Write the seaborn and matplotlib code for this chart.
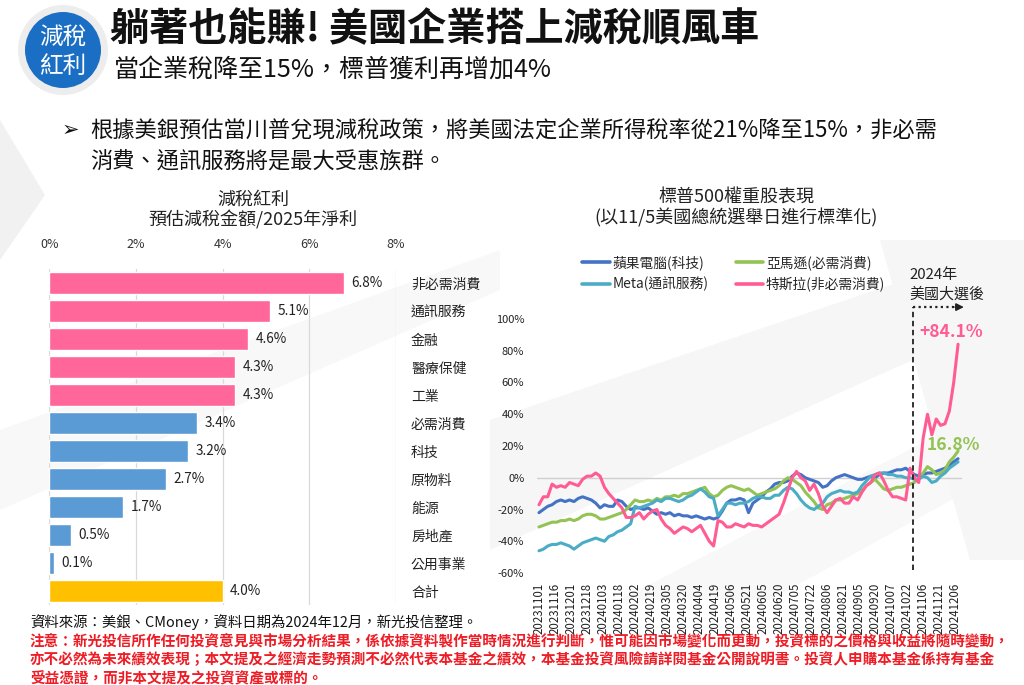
import matplotlib
matplotlib.use("Agg")
import numpy as np
import pandas as pd
import matplotlib.pyplot as plt
from matplotlib.patches import Circle, Polygon
from matplotlib.lines import Line2D
import seaborn as sns

W, H = 1024, 685

# 左圖：減稅紅利（預估減稅金額 / 2025年淨利）
sectors = ["非必需消費", "通訊服務", "金融", "醫療保健", "工業", "必需消費",
           "科技", "原物料", "能源", "房地產", "公用事業", "合計"]
tax_benefit = [6.8, 5.1, 4.6, 4.3, 4.3, 3.4, 3.2, 2.7, 1.7, 0.5, 0.1, 4.0]
sector_colors = ["#ff6699"] * 5 + ["#5b9bd5"] * 6 + ["#ffc000"]
bar_ticks = [0, 2, 4, 6, 8]

# 右圖：標普500權重股表現（%），每3個交易日取一點
date_labels = ["20231101", "20231116", "20231201", "20231218", "20240103", "20240118",
               "20240202", "20240219", "20240305", "20240320", "20240404", "20240419",
               "20240506", "20240521", "20240605", "20240620", "20240705", "20240722",
               "20240806", "20240821", "20240905", "20240920", "20241007", "20241022",
               "20241106", "20241121", "20241206"]
label_step = 11
sample_step = 3

apple = [-22, -20, -18, -17, -15, -14, -15, -14, -15, -13,
         -12, -13, -14, -16, -19, -17, -18, -18, -14, -15,
         -18, -20, -19, -19, -20, -19, -21, -23, -22, -23,
         -22, -24, -23, -24, -24, -25, -24, -25, -26, -25,
         -26, -25, -21, -16, -14, -14, -13, -14, -22, -16,
         -14, -12, -9, -7, -4, -3, -3, -2, 1, 3,
         2, 0, -1, -2, -3, -6, -5, -2, 0, 1,
         2, 1, 0, -1, -1, 0, 1, 0, 2, 3,
         3, 4, 5, 5, 6, 4, 2, 1, 2, 3,
         3, 4, 5, 6, 8, 10, 12]
amazon = [-31, -30, -29, -28, -28, -27, -27, -26, -27, -26,
          -24, -23, -23, -24, -26, -26, -25, -24, -23, -22,
          -20, -17, -14, -15, -15, -14, -15, -13, -14, -12,
          -12, -11, -12, -10, -10, -9, -8, -7, -6, -10,
          -12, -11, -8, -6, -5, -6, -7, -8, -7, -9,
          -11, -10, -9, -8, -7, -5, -2, 0, -1, -3,
          -5, -9, -12, -15, -19, -20, -17, -16, -14, -14,
          -13, -12, -11, -10, -8, -5, -3, -1, -4, -7,
          -8, -7, -6, -6, -5, -4, -3, 0, 3, 7,
          5, 2, 3, 5, 10, 13, 16.8]
meta = [-46, -45, -43, -42, -42, -41, -42, -43, -45, -43,
        -41, -40, -39, -38, -39, -40, -37, -36, -34, -33,
        -31, -29, -18, -19, -18, -17, -16, -14, -15, -13,
        -13, -14, -15, -14, -12, -11, -9, -7, -9, -12,
        -13, -24, -20, -16, -16, -17, -16, -16, -15, -13,
        -12, -12, -13, -13, -11, -11, -8, -6, -7, -10,
        -14, -17, -19, -20, -18, -16, -12, -10, -9, -8,
        -9, -9, -10, -9, -5, -2, 1, 2, 3, 3,
        2, 2, 1, 1, 0, 0, -1, -1, 1, 0,
        -3, -2, 1, 3, 6, 8, 10]
tesla = [-17, -12, -12, -4, -6, -5, -6, -3, -4, -5,
         -1, 1, 1, 3, 1, -6, -10, -13, -16, -19,
         -25, -25, -24, -22, -26, -23, -21, -20, -26, -30,
         -32, -35, -33, -31, -32, -34, -32, -30, -35, -40,
         -43, -27, -28, -31, -31, -29, -30, -31, -29, -30,
         -30, -31, -29, -27, -25, -23, -16, -8, 0, 4,
         0, -2, -8, -4, -10, -18, -22, -18, -14, -13,
         -16, -16, -12, -14, -9, -5, -3, 2, 3, -2,
         -8, -12, -12, -13, -14, 6, 0, -3, 25, 40,
         27, 37, 33, 34, 42, 60, 84.1]

series_names = ["蘋果電腦(科技)", "亞馬遜(必需消費)", "Meta(通訊服務)", "特斯拉(非必需消費)"]
series_colors = ["#4472c4", "#92c353", "#4bacc6", "#ff5c93"]
election_mark = 257  # 大選後虛線位置（交易日序號）

sns.set_theme(style="white")
plt.rcParams["font.family"] = ["Noto Sans CJK TC", "DejaVu Sans"]

fig = plt.figure(figsize=(W / 100, H / 100), dpi=100)
fig.patch.set_facecolor("white")


def box(x0, y0, x1, y1):
    # 像素座標 -> figure 比例
    return [x0 / W, 1 - y1 / H, (x1 - x0) / W, (y1 - y0) / H]


# 背景與標題（像素座標）
bg = fig.add_axes([0, 0, 1, 1], zorder=0)
bg.set_xlim(0, W)
bg.set_ylim(H, 0)
bg.axis("off")
for pts, col in [
    ([(0, 120), (0, 260), (45, 195)], "#f1f1f1"),
    ([(0, 430), (500, 250), (500, 290), (0, 510)], "#f8f8f8"),
    ([(490, 420), (1024, 240), (1024, 310), (490, 550)], "#f6f6f6"),
    ([(620, 600), (1024, 390), (1024, 460), (770, 600)], "#f8f8f8"),
    ([(880, 240), (1024, 240), (1024, 560), (970, 560)], "#f6f6f6"),
]:
    bg.add_patch(Polygon(pts, closed=True, fc=col, ec="none"))

bg.add_patch(Circle((63, 50), 45, fc="#ededed", ec="none"))
bg.add_patch(Circle((63, 50), 38, fc="#1a6fc4", ec="none"))
bg.text(63, 37, "減稅", color="white", fontsize=17, ha="center", va="center")
bg.text(63, 66, "紅利", color="white", fontsize=17, ha="center", va="center")
bg.text(110, 30, "躺著也能賺! 美國企業搭上減稅順風車", fontsize=28.2, fontweight="bold",
        color="#111111", ha="left", va="center")
bg.text(114, 71, "當企業稅降至15%，標普獲利再增加4%", fontsize=18, color="#111111",
        ha="left", va="center")
bg.text(62, 130, "➢", fontsize=15, family="DejaVu Sans", color="#111111", ha="left", va="center")
bg.text(90, 130, "根據美銀預估當川普兌現減稅政策，將美國法定企業所得稅率從21%降至15%，非必需",
        fontsize=16, color="#111111", ha="left", va="center")
bg.text(90, 161, "消費、通訊服務將是最大受惠族群。", fontsize=16, color="#111111",
        ha="left", va="center")

bg.text(253, 200, "減稅紅利", fontsize=13, color="#222222", ha="center", va="center")
bg.text(253, 220, "預估減稅金額/2025年淨利", fontsize=13, color="#222222", ha="center", va="center")
bg.text(736, 198, "標普500權重股表現", fontsize=13, color="#222222", ha="center", va="center")
bg.text(736, 218, "(以11/5美國總統選舉日進行標準化)", fontsize=13, color="#222222",
        ha="center", va="center")

bg.text(30, 622, "資料來源：美銀、CMoney，資料日期為2024年12月，新光投信整理。", fontsize=10.4,
        color="#111111", ha="left", va="center")
notes = ["注意：新光投信所作任何投資意見與市場分析結果，係依據資料製作當時情況進行判斷，惟可能因市場變化而更動，投資標的之價格與收益將隨時變動，",
         "亦不必然為未來績效表現；本文提及之經濟走勢預測不必然代表本基金之績效，本基金投資風險請詳閱基金公開說明書。投資人申購本基金係持有基金",
         "受益憑證，而非本文提及之投資資產或標的。"]
for i, line in enumerate(notes):
    bg.text(30, 641 + 18.5 * i, line, fontsize=10.5, fontweight="bold", color="#ee1c25",
            ha="left", va="center")

# 左圖：橫條圖
axb = fig.add_axes(box(49.3, 269, 395.7, 605), zorder=2)
axb.patch.set_alpha(0)
df_bar = pd.DataFrame({"sector": sectors, "value": tax_benefit})
sns.barplot(data=df_bar, x="value", y="sector", hue="sector", palette=sector_colors,
            legend=False, width=0.775, orient="h", saturation=1, ax=axb)
axb.set_xlim(0, 8)
axb.set_ylim(len(sectors) - 0.5, -0.5)
axb.xaxis.tick_top()
axb.set_xticks(bar_ticks)
axb.set_xticklabels([f"{t}%" for t in bar_ticks])
axb.yaxis.tick_right()
axb.tick_params(axis="x", length=0, pad=13, labelsize=9, labelcolor="#333333")
axb.tick_params(axis="y", length=0, pad=11, labelsize=10, labelcolor="#222222")
axb.grid(axis="x", color="#d9d9d9", lw=0.9)
axb.grid(axis="y", visible=False)
axb.set_axisbelow(True)
axb.set_xlabel("")
axb.set_ylabel("")
for s in axb.spines.values():
    s.set_visible(False)
for i, v in enumerate(tax_benefit):
    axb.annotate(f"{v:.1f}%", (v, i), xytext=(5.5, 0), textcoords="offset points",
                 va="center", ha="left", fontsize=9.8, color="#222222")

# 右圖：折線圖
axl = fig.add_axes(box(536.8, 319, 961.7, 573), zorder=2)
axl.patch.set_alpha(0)
day = np.arange(len(apple)) * sample_step
df_line = pd.concat([pd.DataFrame({"day": day, "ret": vals, "stock": name})
                     for name, vals in zip(series_names, [apple, amazon, meta, tesla])])
axl.axhline(0, color="#d0d0d0", lw=1.0, zorder=0)
sns.lineplot(data=df_line, x="day", y="ret", hue="stock", hue_order=series_names,
             palette=series_colors, lw=2.2, legend=False, errorbar=None, ax=axl)
axl.set_xlim(-1.5, 290.5)
axl.set_ylim(-60, 100)
axl.set_yticks(range(-60, 101, 20))
axl.set_yticklabels([f"{v}%" for v in range(-60, 101, 20)])
axl.set_xticks(np.arange(len(date_labels)) * label_step)
axl.set_xticklabels(date_labels, rotation=90)
axl.tick_params(axis="y", length=0, pad=9, labelsize=8, labelcolor="#222222")
axl.tick_params(axis="x", length=0, pad=7, labelsize=8.3, labelcolor="#222222")
axl.set_xlabel("")
axl.set_ylabel("")
axl.grid(False)
for s in axl.spines.values():
    s.set_visible(False)

axl.plot([election_mark, election_mark], [-58, 107.5], ls=(0, (3, 2)), color="#222222",
         lw=1.3, clip_on=False)
axl.plot([election_mark, 287], [107.5, 107.5], ls=(0, (1, 1.5)), color="#222222",
         lw=1.6, clip_on=False)
axl.annotate("", xy=(292, 107.5), xytext=(286, 107.5), annotation_clip=False,
             arrowprops=dict(arrowstyle="-|>", color="#222222", lw=1.2, mutation_scale=11,
                             shrinkA=0, shrinkB=0))
bg.text(909, 275, "2024年", fontsize=10.8, color="#222222", ha="left", va="center")
bg.text(909, 294, "美國大選後", fontsize=10.8, color="#222222", ha="left", va="center")
axl.text(283, 92, f"+{tesla[-1]}%", fontsize=12.6, fontweight="bold", color=series_colors[3],
         ha="center", va="center")
axl.text(285, 20.5, f"{amazon[-1]}%", fontsize=12.6, fontweight="bold", color=series_colors[1],
         ha="center", va="center")

order = [0, 2, 1, 3]
handles = [Line2D([], [], color=series_colors[i], lw=2.6) for i in order]
fig.legend(handles, [series_names[i] for i in order], loc="upper left",
           bbox_to_anchor=(582 / W, 1 - 255 / H), ncol=2, frameon=False, fontsize=9.9,
           handlelength=2.0, handletextpad=0.2, columnspacing=2.0, labelspacing=0.5,
           borderpad=0, borderaxespad=0)

fig.savefig("out.png", dpi=100)
